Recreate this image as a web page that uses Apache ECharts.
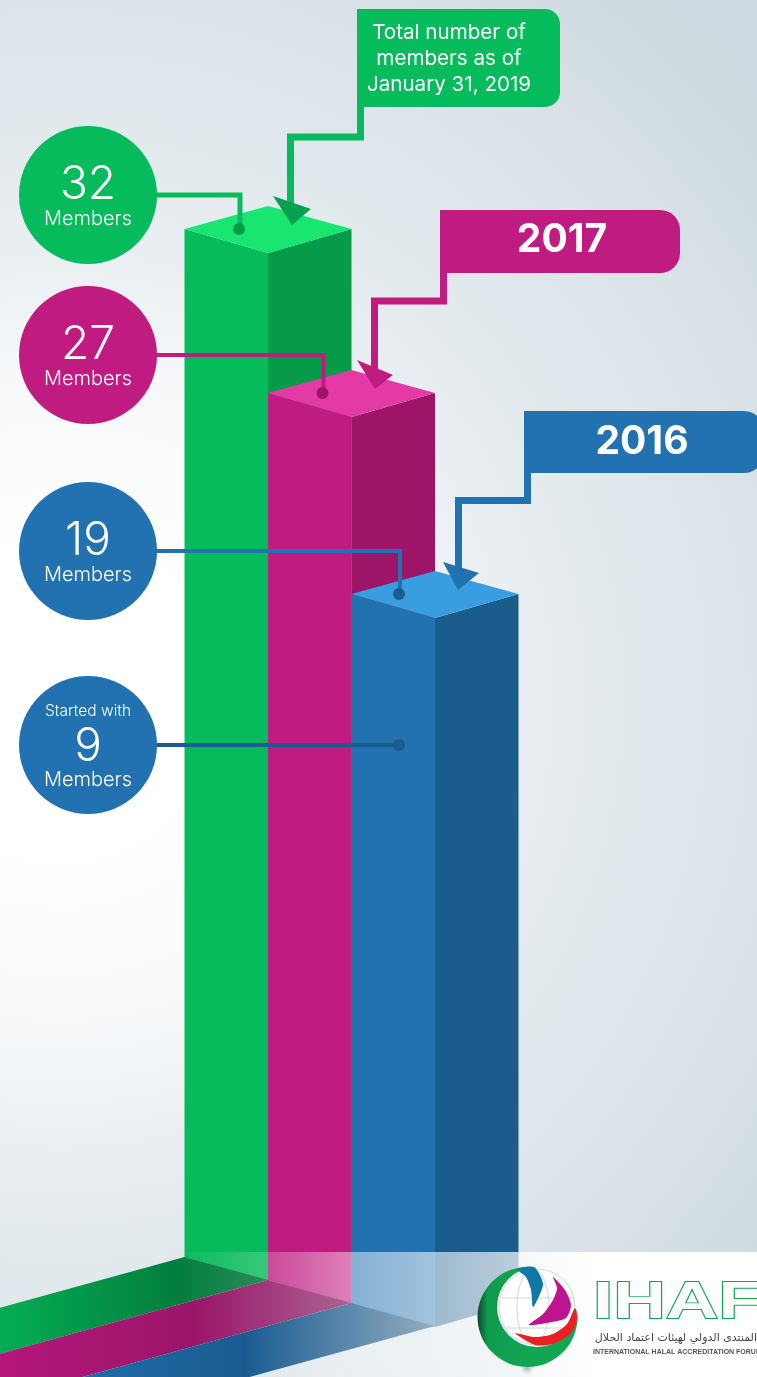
<!DOCTYPE html>
<html>
<head>
<meta charset="utf-8">
<title>IHAF members</title>
<script src="https://cdn.jsdelivr.net/npm/echarts@6/dist/echarts.min.js"></script>
<style>
  html, body { margin: 0; padding: 0; background: #fff; }
  #chart { width: 757px; height: 1377px; }
</style>
</head>
<body>
<div id="chart"></div>
<script>
// what the bars stand for
const categories = ['2019', '2017', '2016']
const members = [32, 27, 19]
const startedWith = 9
// the source graphic is not drawn to scale, so heights are read off the picture,
// in drawn units counted up from the bottom of the page
const barTops = [1148, 984, 783]
const barBases = [120, 97, 74]
const startedWithLevel = 632

const calloutLines = [['Total number of', 'members as of', 'January 31, 2019'], ['2017'], ['2016']]

const faceColors = ['#06bb5b', '#c01b80', '#2271b0']
const sideColors = ['#069a49', '#9c1568', '#1a5c8c']
const topColors = ['#18e670', '#e33aa6', '#399ee0']
const arrowColors = ['#08a04f', '#c01b80', '#2271b0']

const chart = echarts.init(document.getElementById('chart'))
const G = echarts.graphic
const FONT = 'Inter, Roboto, sans-serif'
const DEPTH = 24
const FLOOR_SLOPE = 0.275

function horiz(stops, x1, x2) {
  return new G.LinearGradient(x1, 0, x2, 0, stops.map(s => ({ offset: s[0], color: s[1] })), true)
}

// one column: two faces and the lid
function renderBar(params, api) {
  const i = api.value(0)
  const w = api.size([1, 0])[0]
  const top = api.coord([i, api.value(2)])
  const base = api.coord([i, api.value(1)])
  const x = top[0]
  return {
    type: 'group',
    children: [
      { type: 'polygon', shape: { points: [[x - w, top[1]], [x, top[1] + DEPTH], [x, base[1] + DEPTH], [x - w, base[1]]] }, style: { fill: faceColors[i] } },
      { type: 'polygon', shape: { points: [[x, top[1] + DEPTH], [x + w, top[1]], [x + w, base[1]], [x, base[1] + DEPTH]] }, style: { fill: sideColors[i] } },
      { type: 'polygon', shape: { points: [[x - w, top[1]], [x, top[1] + DEPTH], [x + w, top[1]], [x, top[1] - DEPTH + 1]] }, style: { fill: topColors[i] } }
    ]
  }
}

const floorFills = [
  horiz([[0, '#04ad55'], [0.66, '#037e3c'], [1, '#2c8a5a']], 0, 268),
  horiz([[0, '#b5177a'], [0.55, '#9a1569'], [1, '#ab6493']], 0, 352),
  horiz([[0, '#1d6ca6'], [0.45, '#1a5c91'], [1, '#94adc0']], 90, 435)
]

// strip the column throws on the floor, runs off the left edge
function renderFloor(params, api) {
  const i = api.value(0)
  const w = api.size([1, 0])[0]
  const base = api.coord([i, api.value(1)])
  const run = 700
  const a = [base[0] - w, base[1]]
  const b = [base[0], base[1] + DEPTH - 1]
  return {
    type: 'polygon',
    shape: { points: [a, b, [b[0] - run, b[1] + run * FLOOR_SLOPE], [a[0] - run, a[1] + run * FLOOR_SLOPE]] },
    style: { fill: floorFills[i] }
  }
}

const bubbleX = 89
const bubbleR = 69
const bubbleYs = [195, 355, 551, 745]

// round badge on the left with its leader line into the column
function renderBubble(params, api) {
  const k = params.dataIndex
  const i = api.value(0)
  const p = api.coord([i, api.value(1)])
  const by = bubbleYs[k]
  const dotX = p[0] - (i === 2 ? 36 : 29)
  const lineColor = k === 3 ? sideColors[2] : faceColors[i]
  const dotColor = sideColors[i]
  const count = k === 3 ? startedWith : members[k]
  const children = [
    { type: 'polyline', shape: { points: [[bubbleX + bubbleR - 2, by], [dotX + 1, by], [dotX + 1, p[1]]] }, style: { stroke: lineColor, lineWidth: k === 0 ? 5 : 4, fill: null } },
    { type: 'circle', shape: { cx: dotX, cy: p[1], r: 6 }, style: { fill: dotColor } },
    { type: 'circle', shape: { cx: bubbleX - 1, cy: by, r: bubbleR }, style: { fill: faceColors[i] } }
  ]
  const txt = (text, y, size) => ({
    type: 'text',
    style: { text: text, x: bubbleX - 1, y: y, fill: '#fff', align: 'center', verticalAlign: 'middle', font: '300 ' + size + 'px ' + FONT }
  })
  if (k === 3) {
    children.push(txt('Started with', by - 34, 15.5), txt(String(count), by + 2, 46), txt('Members', by + 35, 20))
  } else {
    children.push(txt(String(count), by - 10, 46), txt('Members', by + 24, 20))
  }
  return { type: 'group', children: children }
}

const callouts = [
  { box: [357, 9, 203, 98], r: [0, 15, 15, 0], elbow: [360.5, 137, 290.5], tip: [292, 225], wing1: [273, 196], wing2: [311, 209], textX: 449, textYs: [33, 59, 85], size: 20.6, weight: 400 },
  { box: [440, 210, 240, 63], r: [0, 20, 20, 0], elbow: [443.5, 301, 374.5], tip: [375, 389], wing1: [357, 360], wing2: [393, 375], textX: 562, textYs: [240], size: 39, weight: 700 },
  { box: [524, 411, 240, 62], r: [0, 20, 20, 0], elbow: [527.5, 500.5, 458.5], tip: [458, 590], wing1: [443, 562], wing2: [479, 573], textX: 642, textYs: [442], size: 39, weight: 700 }
]

// year flags up on the right, each with an arrow down on its column lid
function renderCallout(params, api) {
  const i = api.value(0)
  const c = callouts[i]
  const fill = faceColors[i]
  const children = [
    { type: 'rect', shape: { x: c.box[0], y: c.box[1], width: c.box[2], height: c.box[3], r: c.r }, style: { fill: fill } },
    {
      type: 'polyline',
      shape: { points: [[c.elbow[0], c.box[1] + c.box[3] - 2], [c.elbow[0], c.elbow[1]], [c.elbow[2], c.elbow[1]], [c.elbow[2], c.tip[1] - 20]] },
      style: { stroke: fill, lineWidth: 7, fill: null }
    },
    { type: 'polygon', shape: { points: [c.tip, c.wing1, c.wing2] }, style: { fill: arrowColors[i] } }
  ]
  calloutLines[i].forEach((line, n) => {
    children.push({
      type: 'text',
      style: { text: line, x: c.textX, y: c.textYs[n], fill: '#fff', align: 'center', verticalAlign: 'middle', font: c.weight + ' ' + c.size + 'px ' + FONT }
    })
  })
  return { type: 'group', children: children }
}

const bgElements = [
  // soft light spot on the left, greying out to the corners
  {
    type: 'rect', z: -2, silent: true, shape: { x: 0, y: 0, width: 757, height: 1377 },
    style: {
      fill: new G.RadialGradient(60, 700, 1000, [
        { offset: 0.15, color: '#ffffff' },
        { offset: 0.33, color: '#f6f8fa' },
        { offset: 0.46, color: '#e8eef1' },
        { offset: 0.7, color: '#dbe4e9' },
        { offset: 0.9, color: '#cfdbe1' },
        { offset: 1, color: '#cdd9e1' }
      ], true)
    }
  },
  // white panel across the foot of the columns
  {
    type: 'rect', z: 3, silent: true, shape: { x: 185, y: 1252, width: 572, height: 125 },
    style: {
      fill: new G.LinearGradient(185, 0, 757, 0, [
        { offset: 0, color: 'rgba(255,255,255,0.02)' },
        { offset: 0.146, color: 'rgba(255,255,255,0.2)' },
        { offset: 0.292, color: 'rgba(255,255,255,0.45)' },
        { offset: 0.584, color: 'rgba(255,255,255,0.7)' },
        { offset: 0.62, color: 'rgba(255,255,255,0.85)' },
        { offset: 0.72, color: 'rgba(255,255,255,1)' },
        { offset: 1, color: 'rgba(255,255,255,1)' }
      ], true)
    }
  }
]

// logo, bottom right
const logoElements = [
  {
    type: 'ellipse', z: 6, silent: true, shape: { cx: 527, cy: 1368, rx: 42, ry: 7 },
    style: { fill: new G.RadialGradient(0.5, 0.5, 0.5, [{ offset: 0, color: 'rgba(120,120,120,0.55)' }, { offset: 1, color: 'rgba(160,160,160,0)' }]) }
  },
  {
    type: 'circle', z: 6, silent: true, shape: { cx: 527.5, cy: 1317, r: 50 },
    style: { fill: new G.LinearGradient(478, 0, 520, 0, [{ offset: 0, color: '#0f4a2c' }, { offset: 0.22, color: '#0e9a4c' }, { offset: 1, color: '#11a652' }], true) }
  },
  { type: 'circle', z: 6, silent: true, shape: { cx: 537, cy: 1307, r: 40 }, style: { fill: '#fff' } },
  { type: 'circle', z: 6, silent: true, shape: { cx: 537, cy: 1307, r: 38 }, style: { fill: null, stroke: '#d4d4d4', lineWidth: 1 } },
  { type: 'ellipse', z: 6, silent: true, shape: { cx: 533, cy: 1307, rx: 16, ry: 38 }, style: { fill: null, stroke: '#d4d4d4', lineWidth: 1 } },
  { type: 'line', z: 6, silent: true, shape: { x1: 499, y1: 1298, x2: 575, y2: 1298 }, style: { stroke: '#d4d4d4', lineWidth: 1 } },
  { type: 'line', z: 6, silent: true, shape: { x1: 505, y1: 1328, x2: 568, y2: 1328 }, style: { stroke: '#d4d4d4', lineWidth: 1 } },
  {
    type: 'polygon', z: 6, silent: true,
    shape: { smooth: 0.25, points: [[517, 1269], [534, 1267], [543, 1283], [540, 1294], [533, 1307], [531, 1290], [526, 1277]] },
    style: { fill: '#0f78a5' }
  },
  {
    type: 'polygon', z: 6, silent: true,
    shape: { smooth: 0.25, points: [[553, 1277], [565, 1290], [571, 1305], [566, 1318], [552, 1322], [529, 1325], [543, 1314], [553, 1300], [557, 1288]] },
    style: { fill: '#bf1490' }
  },
  {
    type: 'polygon', z: 6, silent: true,
    shape: { smooth: 0.25, points: [[575, 1308], [577, 1320], [570, 1334], [553, 1344], [535, 1345], [515, 1333], [535, 1337], [553, 1334], [567, 1324]] },
    style: { fill: '#ec2024' }
  },
  {
    type: 'text', z: 6, silent: true, x: 593, y: 1304, scaleX: 1.4,
    style: { text: 'IHAF', x: 0, y: 0, verticalAlign: 'middle', align: 'left', font: 'bold 52px "Liberation Sans"', fill: '#fff', stroke: '#12a650', lineWidth: 1.8 }
  },
  {
    type: 'text', z: 6, silent: true,
    style: { text: 'المنتدى الدولي لهيئات اعتماد الحلال', x: 757, y: 1338, align: 'right', verticalAlign: 'middle', font: '11px "DejaVu Sans"', fill: '#444' }
  },
  {
    type: 'text', z: 6, silent: true,
    style: { text: 'INTERNATIONAL HALAL ACCREDITATION FORUM', x: 593, y: 1352, align: 'left', verticalAlign: 'middle', font: 'bold 7px "Liberation Sans"', fill: '#555' }
  }
]

chart.setOption({
  animation: false,
  tooltip: { show: false },
  graphic: { elements: bgElements.concat(logoElements) },
  grid: { left: 226.25, width: 250.5, top: 0, height: 1377, containLabel: false },
  xAxis: { type: 'category', data: categories, show: false },
  yAxis: { type: 'value', min: 0, max: 1377, show: false },
  series: [
    {
      type: 'custom', z: 2, silent: true, clip: false,
      renderItem: renderBar,
      data: categories.map((c, i) => [i, barBases[i], barTops[i]])
    },
    {
      type: 'custom', z: 4, silent: true, clip: false,
      renderItem: renderFloor,
      data: categories.map((c, i) => [i, barBases[i]])
    },
    {
      type: 'custom', z: 5, silent: true, clip: false,
      renderItem: renderCallout,
      data: categories.map((c, i) => [i])
    },
    {
      type: 'custom', z: 5, silent: true, clip: false,
      renderItem: renderBubble,
      data: barTops.map((t, i) => [i, t]).concat([[2, startedWithLevel]])
    }
  ]
})
</script>
</body>
</html>
